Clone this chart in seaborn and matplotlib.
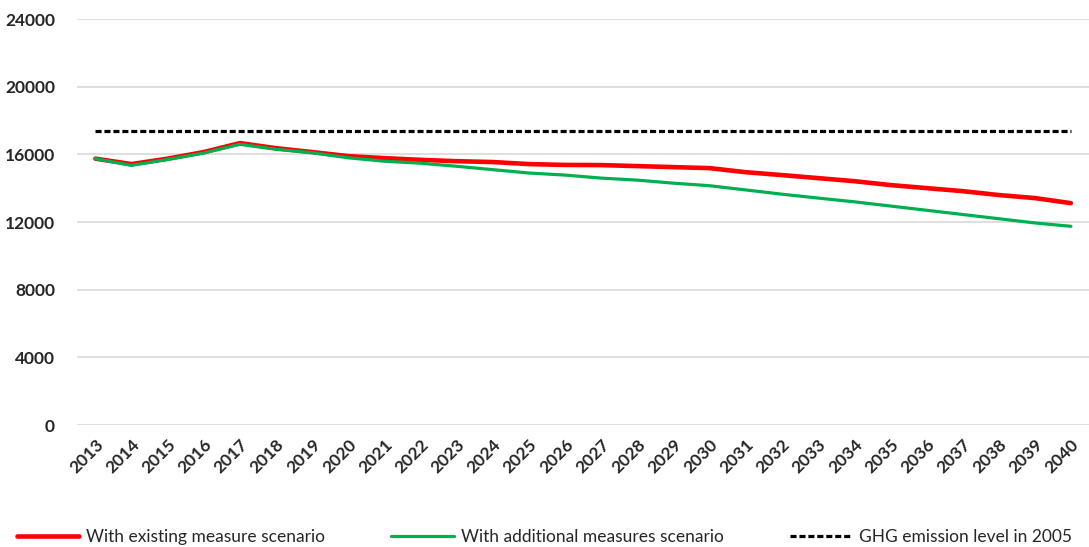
import numpy as np
import pandas as pd
import matplotlib
import matplotlib.pyplot as plt
import seaborn as sns

matplotlib.use("Agg")

# data
years = list(range(2013, 2041))
existing = [15750, 15430, 15750, 16140, 16670, 16370, 16140, 15900, 15780, 15680,
            15600, 15550, 15430, 15380, 15370, 15310, 15250, 15190, 14950, 14780,
            14600, 14420, 14190, 14010, 13830, 13600, 13420, 13120]
additional = [15750, 15350, 15700, 16080, 16600, 16300, 16100, 15800, 15600, 15480,
              15300, 15100, 14900, 14780, 14600, 14480, 14300, 14150, 13900, 13650,
              13420, 13200, 12950, 12700, 12450, 12200, 11950, 11750]
level_2005 = [17380] * len(years)

sns.set_style("white")
plt.rcParams["font.family"] = ["Lato", "DejaVu Sans"]

fig, ax = plt.subplots(figsize=(10.89, 5.47), dpi=100)
fig.subplots_adjust(left=0.071, right=1.0, top=0.965, bottom=0.223)

sns.lineplot(x=years, y=existing, color="#ff0000", linewidth=3.3, ax=ax,
             label="With existing measure scenario")
sns.lineplot(x=years, y=additional, color="#00b050", linewidth=2.3, ax=ax,
             label="With additional measures scenario")
sns.lineplot(x=years, y=level_2005, color="black", linewidth=2.3, ax=ax,
             label="GHG emission level in 2005")
ax.lines[2].set_dashes((1.9, 0.9))

ax.set_xlim(2012.5, 2040.5)
ax.set_ylim(0, 24000)
ax.set_yticks(range(0, 24001, 4000))
ax.set_xticks(years)
ax.set_xticklabels([str(y) for y in years], rotation=45, ha="right",
                   rotation_mode="anchor", fontsize=12.5, fontweight="bold")
for t in ax.get_yticklabels():
    t.set_fontsize(12.5)
    t.set_fontweight("bold")
ax.tick_params(axis="y", length=0, pad=16)
ax.tick_params(axis="x", length=0, pad=8)
ax.yaxis.grid(True, color="#d9d9d9", linewidth=1.2)
for s in ax.spines.values():
    s.set_visible(False)

ax.get_legend().remove()
handles, labels = ax.get_legend_handles_labels()
fig.legend(handles, labels, loc="lower center", ncol=3, frameon=False,
           bbox_to_anchor=(0.5, -0.025), fontsize=12.5, handlelength=3.6,
           columnspacing=3.8, handletextpad=0.4)

fig.savefig("out.png", dpi=100)
